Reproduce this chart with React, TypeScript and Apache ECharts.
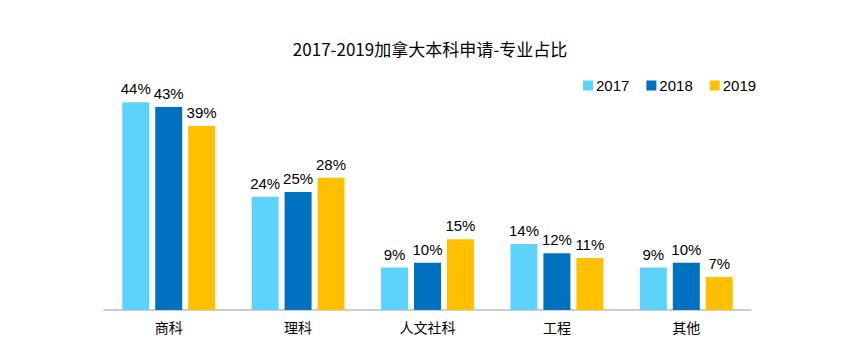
import React, { useEffect, useRef } from "react";
import * as echarts from "echarts";

const categories = ["商科", "理科", "人文社科", "工程", "其他"];
const years = ["2017", "2018", "2019"];
const values2017 = [44, 24, 9, 14, 9];
const values2018 = [43, 25, 10, 12, 10];
const values2019 = [39, 28, 15, 11, 7];
const colors = ["#5DD3FB", "#0070C0", "#FFC000"];

export default function App() {
  const ref = useRef<HTMLDivElement>(null);
  useEffect(() => {
    const chart = echarts.init(ref.current!, undefined, { renderer: "svg" });
    const seriesData = [values2017, values2018, values2019];
    chart.setOption({
      animation: false,
      backgroundColor: "#ffffff",
      title: {
        text: "2017-2019加拿大本科申请-专业占比",
        left: "center",
        top: 35,
        textStyle: {
          fontFamily: "Noto Sans CJK SC",
          fontSize: 17,
          fontWeight: "normal",
          color: "#000",
        },
      },
      legend: {
        left: 578,
        top: 73,
        itemWidth: 10,
        itemHeight: 10,
        itemGap: 17,
        icon: "rect",
        textStyle: { fontFamily: "Liberation Sans", fontSize: 15, color: "#000", padding: [0, 0, 0, -2] },
        data: years,
      },
      grid: { left: 104, right: 109, top: 74, bottom: 48 },
      xAxis: {
        type: "category",
        data: categories,
        axisLine: { lineStyle: { color: "#BFBFBF", width: 1.5 } },
        axisTick: { show: false },
        axisLabel: { fontFamily: "Noto Sans CJK SC", fontSize: 14, color: "#000", margin: 10 },
      },
      yAxis: {
        type: "value",
        min: 0,
        max: 50,
        show: false,
        splitLine: { show: false },
      },
      series: years.map((y, i) => ({
        name: y,
        type: "bar",
        data: seriesData[i],
        barWidth: 27,
        barGap: "22%",
        itemStyle: { color: colors[i] },
        label: {
          show: true,
          position: "top",
          distance: 6,
          formatter: "{c}%",
          fontFamily: "Liberation Sans",
          fontSize: 15,
          color: "#000",
        },
      })),
    });
    return () => chart.dispose();
  }, []);
  return <div ref={ref} style={{ width: 860, height: 358, position: "absolute", left: 0, top: 0 }} />;
}
